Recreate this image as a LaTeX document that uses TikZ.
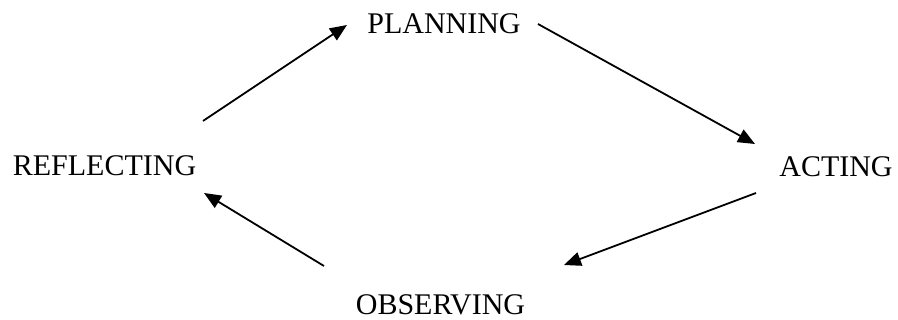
\documentclass[tikz,border=0pt]{standalone}
\usepackage{fontspec}
\setmainfont{Liberation Serif}
\usetikzlibrary{arrows.meta}
\begin{document}
\begin{tikzpicture}[x=1pt,y=-1pt,
  lbl/.style={inner sep=0pt,anchor=base,font=\fontsize{30}{36}\selectfont},
  conn/.style={line width=1.8pt,-{Triangle[length=17pt,width=14pt]}}]
\useasboundingbox (0,0) rectangle (898,320);
\node[lbl] (plan) at (444,34) {PLANNING};
\node[lbl] (act) at (836,177) {ACTING};
\node[lbl] (refl) at (104.5,176) {REFLECTING};
\node[lbl] (obs) at (440.5,315) {OBSERVING};
\coordinate (a1s) at (203,121); \coordinate (a1e) at (347,25);
\coordinate (a2s) at (538,24);  \coordinate (a2e) at (755,144);
\coordinate (a3s) at (756,193); \coordinate (a3e) at (564,265);
\coordinate (a4s) at (324,266); \coordinate (a4e) at (204,193);
\draw[conn] (a1s) -- (a1e);
\draw[conn] (a2s) -- (a2e);
\draw[conn] (a3s) -- (a3e);
\draw[conn] (a4s) -- (a4e);
\end{tikzpicture}
\end{document}
